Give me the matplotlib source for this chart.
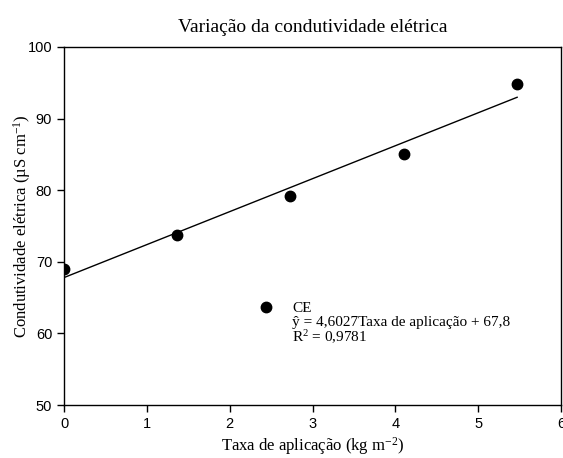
import matplotlib
matplotlib.use('Agg')
import matplotlib.pyplot as plt
import numpy as np
from matplotlib.lines import Line2D

# data
taxa = [0.0, 1.37, 2.73, 4.10, 5.47]
ce = [69.0, 73.8, 79.2, 85.0, 94.8]
slope = 4.6027
intercept = 67.8
r2_text = '0,9781'

x_ticks = [0, 1, 2, 3, 4, 5, 6]
y_ticks = [50, 60, 70, 80, 90, 100]

plt.rcParams['mathtext.fontset'] = 'custom'
plt.rcParams['mathtext.rm'] = 'Liberation Serif'
plt.rcParams['mathtext.it'] = 'Liberation Serif:italic'
plt.rcParams['mathtext.default'] = 'rm'

serif = 'Liberation Serif'
sans = 'Liberation Sans'

fig = plt.figure(figsize=(5.63, 4.58), dpi=100)
ax = fig.add_axes([0.1137, 0.1157, 0.8828, 0.7817])

ax.plot(taxa, ce, 'o', color='black', markersize=7.5)
xf = np.array([min(taxa), max(taxa)])
ax.plot(xf, slope * xf + intercept, color='black', linewidth=1.0)

ax.set_xlim(0, 6)
ax.set_ylim(50, 100)
ax.set_xticks(x_ticks)
ax.set_yticks(y_ticks)
ax.tick_params(direction='out', length=5, width=1, labelsize=10.5)
for lab in ax.get_xticklabels() + ax.get_yticklabels():
    lab.set_fontfamily(sans)
for s in ax.spines.values():
    s.set_linewidth(1.0)

ax.set_xlabel('Taxa de aplicação (kg m$^{-2}$)', fontfamily=serif, fontsize=12, labelpad=3)
ax.set_ylabel('Condutividade elétrica (µS cm$^{-1}$)', fontfamily=serif, fontsize=12)
ax.yaxis.set_label_coords(-0.062, 0.5)
ax.set_title('Variação da condutividade elétrica', fontfamily=serif, fontsize=14, pad=11)

handles = [Line2D([], [], marker='o', color='black', linestyle='none', markersize=7.5),
           Line2D([], [], linestyle='none'),
           Line2D([], [], linestyle='none')]
labels = ['CE',
          'ŷ = %sTaxa de aplicação + %s' % (str(slope).replace('.', ','), str(intercept).replace('.', ',')),
          'R$^2$ = ' + r2_text]
ax.legend(handles, labels, loc='upper left', bbox_to_anchor=(0.392, 0.29), frameon=False,
          prop={'family': serif, 'size': 11}, labelspacing=0.0, handlelength=1.0,
          handletextpad=1.2, borderpad=0, borderaxespad=0)

fig.savefig('out.png', dpi=100)
